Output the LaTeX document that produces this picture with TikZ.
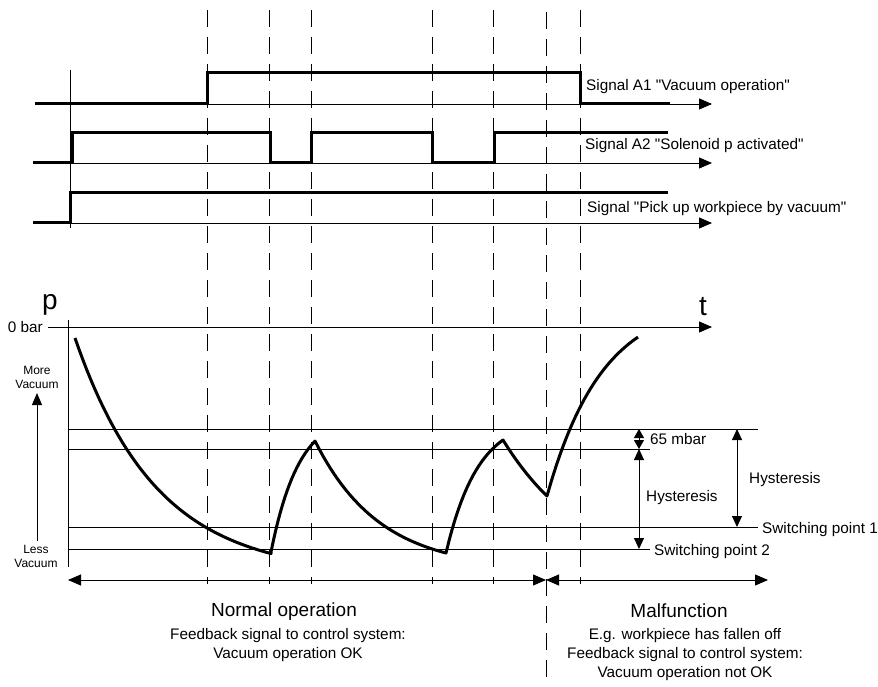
\documentclass[tikz,border=0pt]{standalone}
\usepackage{fontspec}
\setmainfont{Liberation Sans}
\newfontfamily\quotefont{Liberation Sans}
\usetikzlibrary{arrows.meta,positioning}
\newcommand{\dq}{{\quotefont\char34}}
\tikzset{
  signal/.style   = {line width=3pt, line join=miter},
  axis/.style     = {line width=0.9pt, -{Triangle[length=13pt,width=11pt]}},
  guide/.style    = {line width=0.9pt},
  timeline/.style = {line width=0.9pt, dash pattern=on 17pt off 10pt},
  dim/.style      = {line width=0.9pt, {Triangle[length=11pt,width=10pt]}-{Triangle[length=11pt,width=10pt]}},
  span/.style     = {line width=0.9pt, {Triangle[length=13pt,width=11pt]}-{Triangle[length=13pt,width=11pt]}},
  curve/.style    = {line width=3pt, line join=round},
  txt/.style      = {inner sep=1pt, font=\fontsize{15.3}{19}\selectfont},
  small/.style    = {inner sep=1pt, align=center, font=\fontsize{12}{14}\selectfont},
  big/.style      = {inner sep=1pt, font=\fontsize{19}{23}\selectfont},
  sym/.style      = {inner sep=1pt, font=\fontsize{28}{30}\selectfont}
}

\begin{document}
\begin{tikzpicture}[x=1pt,y=-1pt]
\useasboundingbox (0,0) rectangle (878,687);

% time marks running through both parts
\foreach \tx in {207,269,311,432,493,580}
  \draw[timeline] (\tx,10) -- (\tx,584);
\draw[timeline] (546,12) -- (546,687);
\draw[guide] (70,70) -- (70,228);

% the three switching signals
\draw[axis] (35,104) -- (712,104);
\draw[signal] (35,104) -- (207,104) -- (207,73) -- (580,73) -- (580,104) -- (670,104);
\node[txt, anchor=base west] (sa1) at (585,91) {Signal A1 \dq Vacuum operation\dq};

\draw[axis] (33,163) -- (712,163);
\draw[signal] (33,163) -- (72,163) -- (72,133) -- (270,133) -- (270,163) -- (311,163)
  -- (311,133) -- (432,133) -- (432,163) -- (494,163) -- (494,133) -- (668,133);
\node[txt, anchor=base west] (sa2) at (584,150) {Signal A2 \dq Solenoid p activated\dq};

\draw[axis] (33,223) -- (712,223);
\draw[signal] (33,223) -- (70,223) -- (70,193) -- (668,193);
\node[txt, anchor=base west] (spick) at (586,213) {Signal \dq Pick up workpiece by vacuum\dq};

% pressure over time
\node[sym, anchor=base] (p) at (50,309) {p};
\node[sym, anchor=base] (t) at (703,315) {t};
\node[txt, anchor=base east] (zero) at (44,332) {0 bar};
\coordinate (tstart) at (48,327);
\coordinate (tend) at (712,327);
\draw[axis] (tstart) -- (tend);
\draw[guide] (68,320) -- (68,567);

\node[small, anchor=base] (more) at (37,388) {More\\Vacuum};
\node[small, anchor=base] (less) at (36,567) {Less\\Vacuum};
\draw[line width=0.9pt, -{Triangle[length=12pt,width=10pt]}] (37,541) -- (37,393);

% limit lines
\draw[guide] (68,429) -- (758,429);
\draw[guide] (68,449) -- (650,449);
\draw[guide] (68,527) -- (758,527);
\draw[guide] (68,549) -- (650,549);
\node[txt, anchor=base west] (sw1) at (761,533) {Switching point 1};
\node[txt, anchor=base west] (sw2) at (653,555) {Switching point 2};

\draw[line width=0.9pt, {Triangle[length=9pt,width=10pt]}-{Triangle[length=9pt,width=10pt]}] (639,429) -- (639,449);
\node[txt, anchor=base west] (mbar) at (649,444) {65 mbar};
\draw[dim] (639,449) -- (639,549);
\node[txt, anchor=base west] (hys2) at (645,501) {Hysteresis};
\draw[dim] (737,429) -- (737,527);
\node[txt, anchor=base west] (hys1) at (748,483) {Hysteresis};

% pressure curve
\draw[curve] plot[domain=75:271, samples=50] (\x, {575-237*exp(-(\x-75)/81.6)})
  -- plot[domain=271:315, samples=20] (\x, {552-140*(1-exp(-(\x-271)/28))})
  -- plot[domain=315:446, samples=35] (\x, {570-129*exp(-(\x-315)/64.6)})
  -- plot[domain=446:503, samples=20] (\x, {553-135.9*(1-exp(-(\x-446)/32))})
  -- plot[domain=503:547, samples=15] (\x, {580-140*exp(-(\x-503)/86)})
  -- plot[domain=547:638, samples=30] (\x, {496-196.5*(1-exp(-(\x-547)/55))});

% operating ranges
\coordinate (nleft) at (68,580);
\coordinate (split) at (546,580);
\coordinate (mright) at (768,580);
\draw[span] (nleft) -- (split);
\draw[span] (split) -- (mright);

\node[big, anchor=base] (normal) at (284,616) {Normal operation};
\node[txt, anchor=base, align=center] (fbok) at (288,658) {Feedback signal to control system:\\Vacuum operation OK};
\node[big, anchor=base] (malf) at (679,617) {Malfunction};
\node[txt, anchor=base, align=center] (fbnok) at (685,677) {E.g. workpiece has fallen off\\Feedback signal to control system:\\Vacuum operation not OK};

\end{tikzpicture}
\end{document}
